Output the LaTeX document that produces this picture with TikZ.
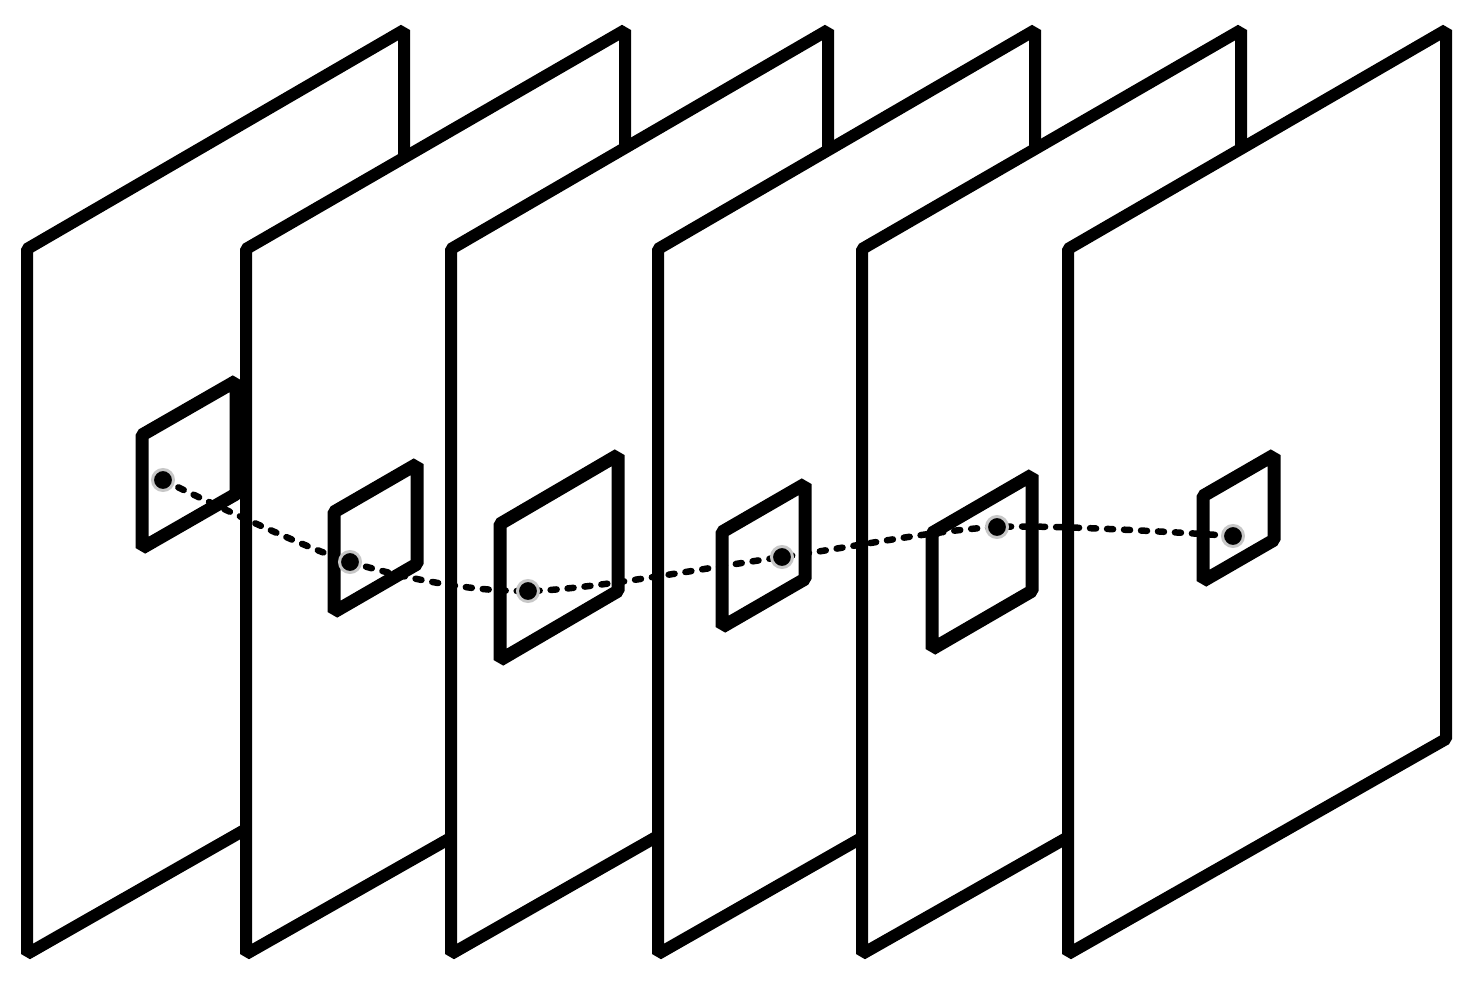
\documentclass[tikz,border=0pt]{standalone}
\begin{document}
\begin{tikzpicture}[x=1pt,y=-1pt,
  pane/.style={draw=black,fill=white,line width=12pt,line join=bevel},
  win/.style={draw=black,fill=white,line width=13pt,line join=bevel},
  dot/.style={circle,fill=black,draw=black!22,line width=3pt,inner sep=0pt,minimum size=21pt},
  track/.style={line width=6.5pt,line cap=round,dash pattern=on 6pt off 11pt}]
\useasboundingbox (0,0) rectangle (1473,986);
% frame 1
\draw[pane] (27,249) -- (404,30) -- (404,739) -- (27,954) -- cycle;
\draw[win] (142,435) -- (236,381) -- (236,494) -- (142,548) -- cycle;
% frame 2
\draw[pane] (246,249) -- (625,30) -- (625,739) -- (246,954) -- cycle;
\draw[win] (334,512) -- (417,464) -- (417,564) -- (334,612) -- cycle;
% frame 3
\draw[pane] (451,249) -- (828,30) -- (828,739) -- (451,954) -- cycle;
\draw[win] (500,524) -- (618,455) -- (618,591) -- (500,660) -- cycle;
% frame 4
\draw[pane] (658,249) -- (1035,30) -- (1035,739) -- (658,954) -- cycle;
\draw[win] (722,532) -- (805,484) -- (805,579) -- (722,627) -- cycle;
% frame 5
\draw[pane] (862,249) -- (1241,30) -- (1241,739) -- (862,954) -- cycle;
\draw[win] (932,533) -- (1032,475) -- (1032,591) -- (932,649) -- cycle;
% frame 6
\draw[pane] (1068,249) -- (1446,30) -- (1446,739) -- (1068,954) -- cycle;
\draw[win] (1203,496) -- (1274,455) -- (1274,540) -- (1203,581) -- cycle;
% track
\coordinate (p1) at (163,480);
\coordinate (p2) at (350,562);
\coordinate (p3) at (528,591);
\coordinate (p4) at (782,557);
\coordinate (p5) at (997,527);
\coordinate (p6) at (1233,536);
\draw[track] plot[smooth,tension=0.5] coordinates {(p1) (p2) (p3) (p4) (p5) (p6)};
\node[dot] (d1) at (p1) {};
\node[dot] (d2) at (p2) {};
\node[dot] (d3) at (p3) {};
\node[dot] (d4) at (p4) {};
\node[dot] (d5) at (p5) {};
\node[dot] (d6) at (p6) {};
\end{tikzpicture}
\end{document}
